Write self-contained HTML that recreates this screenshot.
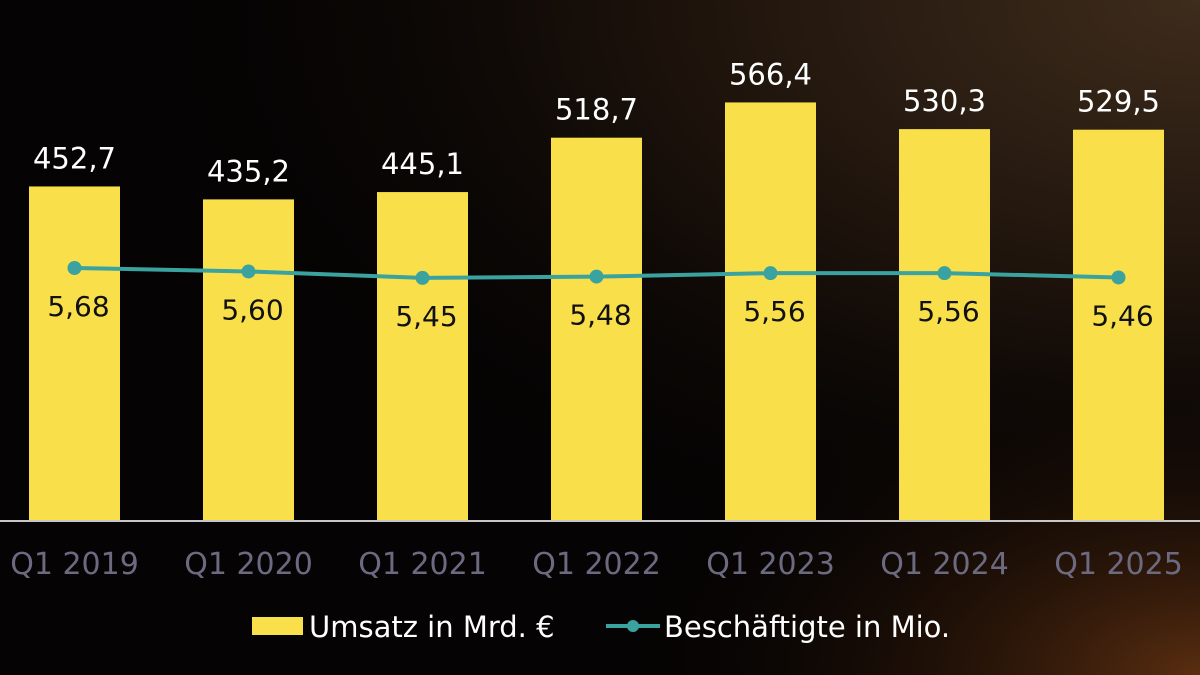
<!DOCTYPE html>
<html><head><meta charset="utf-8"><style>
html,body{margin:0;padding:0;width:1200px;height:675px;overflow:hidden;background:#050303}
svg text{font-family:"DejaVu Sans","Liberation Sans",sans-serif}
</style></head><body>
<svg id="chart" width="1200" height="675" xmlns="http://www.w3.org/2000/svg">
<defs>
<radialGradient id="glow1" cx="1" cy="0" r="0.9">
<stop offset="0" stop-color="#3e2c1c"/><stop offset="0.5" stop-color="#1c120b"/><stop offset="1" stop-color="#050303" stop-opacity="0"/>
</radialGradient>
<radialGradient id="glow2" cx="1" cy="1" r="0.5">
<stop offset="0" stop-color="#5a2e10"/><stop offset="1" stop-color="#050303" stop-opacity="0"/>
</radialGradient>
</defs>
<rect width="1200" height="675" fill="#050303"/>
<rect width="1200" height="675" fill="url(#glow1)"/>
<rect width="1200" height="675" fill="url(#glow2)"/>
<g id="bars"></g>
<line x1="0" y1="521" x2="1200" y2="521" stroke="#c8c8c8" stroke-width="2"/>
<g id="line"></g>
<g id="labels"></g>
<g>
<rect x="252" y="617" width="51" height="18" fill="#f9e04b"/>
<text x="309" y="637" fill="#fff" font-size="29">Umsatz in Mrd. €</text>
<line x1="606" y1="626" x2="660" y2="626" stroke="#3aa3a0" stroke-width="4"/>
<circle cx="633" cy="626" r="6" fill="#3aa3a0"/>
<text x="664" y="637" fill="#fff" font-size="29">Beschäftigte in Mio.</text>
</g>
</svg>
<script>
const categories=["Q1 2019","Q1 2020","Q1 2021","Q1 2022","Q1 2023","Q1 2024","Q1 2025"];
const revenue=[452.7,435.2,445.1,518.7,566.4,530.3,529.5];
const employees=[5.68,5.60,5.45,5.48,5.56,5.56,5.46];
const NS="http://www.w3.org/2000/svg";
const base=521, pxPerUnit=0.739;
function xCenter(i){return 74.5+i*174;}
function yBar(v){return base-v*pxPerUnit;}
function yLine(v){return 268+(5.68-v)*43;}
function fmt(v,d){return v.toFixed(d).replace('.',',');}
function mk(tag,attrs,parent){const e=document.createElementNS(NS,tag);for(const k in attrs)e.setAttribute(k,attrs[k]);parent.appendChild(e);return e;}
const gb=document.getElementById('bars'),gl=document.getElementById('line'),gt=document.getElementById('labels');
let pts=[];
categories.forEach((c,i)=>{
 const x=xCenter(i),y=yBar(revenue[i]);
 const r=mk('rect',{x:x-45.5,y:y,width:91,height:base-y,fill:'#f9e04b'},gb);
 
 
 const t=mk('text',{x:x,y:y-18,'text-anchor':'middle',fill:'#fff','font-size':'29'},gt);
 t.textContent=fmt(revenue[i],1);
 
 
 const ax=mk('text',{x:x,y:574,'text-anchor':'middle',fill:'#6c6a80','font-size':'30'},gt);
 ax.textContent=c;
 
 
 pts.push([x,yLine(employees[i])]);
});
const pl=mk('polyline',{points:pts.map(p=>p.join(',')).join(' '),fill:'none',stroke:'#3aa3a0','stroke-width':'4'},gl);


pts.forEach((p,i)=>{
 const c=mk('circle',{cx:p[0],cy:p[1],r:7,fill:'#3aa3a0'},gl);
 
 
 const t=mk('text',{x:p[0]+4,y:p[1]+48,'text-anchor':'middle',fill:'#111','font-size':'28'},gt);
 t.textContent=fmt(employees[i],2);
 
 
});
</script>
</body></html>
